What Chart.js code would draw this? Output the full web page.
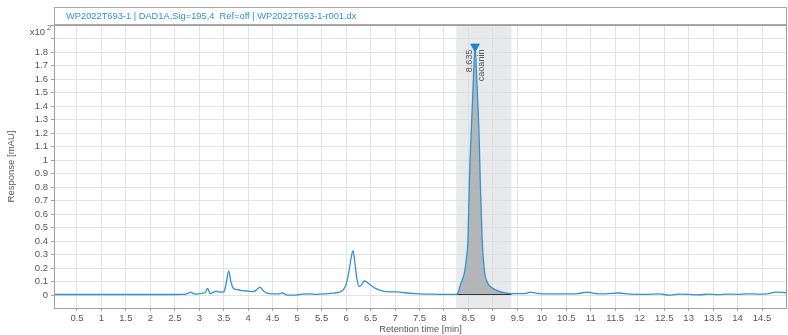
<!DOCTYPE html>
<html>
<head>
<meta charset="utf-8">
<script src="https://cdn.jsdelivr.net/npm/chart.js@4/dist/chart.umd.min.js"></script>
<style>
  html, body { margin: 0; padding: 0; background: #fff; }
  #wrap { width: 788px; height: 335px; }
</style>
</head>
<body>
<div id="wrap"><canvas id="chart" width="788" height="335"></canvas></div>
<script>
// retention time [min] and response [x10^2 mAU]
const times = [0.03, 0.5, 1, 1.5, 2, 2.5, 2.7, 2.76, 2.82, 2.88, 2.95, 3.05, 3.12, 3.17, 3.22, 3.28,
  3.35, 3.42, 3.5, 3.55, 3.6, 3.65, 3.7, 3.8, 3.9, 4.0, 4.1, 4.17, 4.24, 4.3, 4.38, 4.5, 4.62, 4.7,
  4.78, 4.9, 5.0, 5.1, 5.25, 5.4, 5.6, 5.75, 5.85, 5.93, 6.0, 6.06, 6.1, 6.14, 6.18, 6.22, 6.27,
  6.32, 6.37, 6.43, 6.5, 6.6, 6.75, 6.9, 7.05, 7.2, 7.4, 7.6, 7.8, 8.0,
  8.25, 8.29, 8.33, 8.38, 8.42, 8.46, 8.49, 8.52, 8.55, 8.59, 8.635, 8.67, 8.7, 8.72, 8.74, 8.78,
  8.83, 8.88, 8.93, 9.0, 9.1, 9.2, 9.3, 9.38,
  9.5, 9.65, 9.78, 9.9, 10.1, 10.4, 10.7, 10.93, 11.1, 11.3, 11.58, 11.8, 12.1, 12.4, 12.6, 12.8,
  13.0, 13.2, 13.4, 13.6, 13.8, 14.0, 14.2, 14.4, 14.6, 14.78, 14.95, 15.01];
const response = [0.005, 0.005, 0.005, 0.005, 0.005, 0.005, 0.006, 0.012, 0.022, 0.012, 0.008, 0.014, 0.02, 0.05, 0.012, 0.02,
  0.03, 0.022, 0.025, 0.09, 0.18, 0.09, 0.05, 0.04, 0.032, 0.03, 0.026, 0.04, 0.06, 0.035, 0.015, 0.01, 0.01, 0.016,
  0.002, 0.0, 0.002, 0.008, 0.01, 0.006, 0.01, 0.015, 0.02, 0.035, 0.08, 0.18, 0.27, 0.33, 0.24, 0.12, 0.064,
  0.08, 0.105, 0.095, 0.075, 0.05, 0.03, 0.024, 0.025, 0.018, 0.012, 0.008, 0.007, 0.006,
  0.006, 0.02, 0.07, 0.12, 0.17, 0.28, 0.41, 0.86, 1.15, 1.5, 1.84, 1.6, 1.35, 1.15, 0.86, 0.41,
  0.17, 0.1, 0.07, 0.05, 0.032, 0.02, 0.013, 0.01,
  0.012, 0.012, 0.022, 0.014, 0.01, 0.01, 0.01, 0.022, 0.012, 0.01, 0.016, 0.008, 0.006, 0.01, 0.0, 0.008,
  0.006, 0.002, 0.008, 0.004, 0.008, 0.006, 0.01, 0.008, 0.01, 0.022, 0.02, 0.012];

// integrated peak
const peakStart = 8.25;
const peakEnd = 9.38;
const peakBase = [0.005, 0.005];
const peakTime = [8.635];
const peakHeight = [1.84];
const peakNames = ['caoanin'];

const xTicks = [0.5, 1, 1.5, 2, 2.5, 3, 3.5, 4, 4.5, 5, 5.5, 6, 6.5, 7, 7.5, 8, 8.5, 9, 9.5, 10,
  10.5, 11, 11.5, 12, 12.5, 13, 13.5, 14, 14.5];
const yTicks = [0, 0.1, 0.2, 0.3, 0.4, 0.5, 0.6, 0.7, 0.8, 0.9, 1, 1.1, 1.2, 1.3, 1.4, 1.5, 1.6,
  1.7, 1.8, 1.9, 2.0];
const yLabelMax = 1.8;

const titleText = 'WP2022T693-1 | DAD1A,Sig=195,4  Ref=off | WP2022T693-1-r001.dx';

const blue = '#2f93d1';
const font = '"Liberation Sans", Arial, sans-serif';

const trace = times.map((t, i) => ({ x: t, y: response[i] }));
const peakArea = trace.filter(p => p.x >= peakStart && p.x <= peakEnd);

const decorations = {
  id: 'decorations',
  beforeDatasetsDraw(chart) {
    const { ctx, chartArea: a, scales: { x } } = chart;
    ctx.save();
    ctx.fillStyle = 'rgba(215,218,222,0.6)';
    const x0 = x.getPixelForValue(peakStart), x1 = x.getPixelForValue(peakEnd);
    ctx.fillRect(x0, a.top, x1 - x0, a.bottom - a.top);
    ctx.restore();
  },
  afterDraw(chart) {
    const { ctx, chartArea: a, scales: { x, y } } = chart;
    ctx.save();
    // title box
    ctx.strokeStyle = '#a9a9a9';
    ctx.lineWidth = 1;
    ctx.strokeRect(a.left + 0.5, 7.5, a.right - a.left - 1, a.top - 8);
    ctx.fillStyle = blue;
    ctx.font = '9.3px ' + font;
    ctx.textBaseline = 'middle';
    ctx.fillText(titleText, a.left + 12, 16);
    // plot frame
    ctx.strokeStyle = '#a0a0a0';
    ctx.strokeRect(a.left + 0.5, a.top + 0.5, a.right - a.left - 1, a.bottom - a.top);
    // exponent label
    ctx.fillStyle = '#555';
    ctx.font = '9.5px ' + font;
    ctx.textAlign = 'right';
    ctx.fillText('x10', a.left - 9, 32);
    ctx.font = '7.5px ' + font;
    ctx.textAlign = 'left';
    ctx.fillText('2', a.left - 7, 28);
    // peak labels
    peakTime.forEach((t, i) => {
      const px = x.getPixelForValue(t), py = y.getPixelForValue(peakHeight[i]);
      ctx.font = '9px ' + font;
      ctx.fillStyle = '#555';
      ctx.textAlign = 'right';
      ctx.textBaseline = 'middle';
      ctx.save();
      ctx.translate(px - 6, py + 3);
      ctx.rotate(-Math.PI / 2);
      ctx.fillText(t.toFixed(3), 0, 0);
      ctx.restore();
      ctx.save();
      ctx.translate(px + 6, py + 3);
      ctx.rotate(-Math.PI / 2);
      ctx.fillText(peakNames[i], 0, 0);
      ctx.restore();
    });
    ctx.restore();
  }
};

new Chart(document.getElementById('chart'), {
  type: 'line',
  data: {
    datasets: [
      {
        label: 'area',
        data: peakArea,
        borderWidth: 0,
        pointRadius: 0,
        backgroundColor: 'rgba(160,164,168,0.75)',
        fill: { value: peakBase[0] },
        cubicInterpolationMode: 'monotone',
        order: 3
      },
      {
        label: 'baseline',
        data: [{ x: peakStart, y: peakBase[0] }, { x: peakEnd, y: peakBase[1] }],
        borderColor: '#333',
        borderWidth: 1.2,
        pointRadius: 0,
        fill: false,
        order: 2
      },
      {
        label: 'signal',
        data: trace,
        borderColor: blue,
        borderWidth: 1.3,
        pointRadius: 0,
        fill: false,
        cubicInterpolationMode: 'monotone',
        order: 1
      },
      {
        label: 'apex',
        type: 'scatter',
        data: peakTime.map((t, i) => ({ x: t, y: peakHeight[i] })),
        pointStyle: 'triangle',
        rotation: 180,
        radius: 5,
        backgroundColor: '#1c86d0',
        borderColor: '#1c86d0',
        order: 0
      }
    ]
  },
  options: {
    responsive: false,
    animation: false,
    layout: { autoPadding: false, padding: { top: 25, right: 1, left: 0, bottom: 0 } },
    plugins: { legend: { display: false }, tooltip: { enabled: false } },
    scales: {
      x: {
        type: 'linear',
        min: 0.03,
        max: 15.01,
        afterBuildTicks: s => { s.ticks = xTicks.map(v => ({ value: v })); },
        afterFit: s => { s.height = 27; s.paddingLeft = 0; s.paddingRight = 0; },
        border: { display: false },
        grid: { color: '#e3e3e3', lineWidth: 1, drawTicks: true, tickLength: 3, tickColor: '#a0a0a0' },
        ticks: {
          color: '#555', font: { family: font, size: 9.5 }, padding: 2, maxRotation: 0,
          autoSkip: false, callback: v => String(v)
        },
        title: {
          display: true, text: 'Retention time [min]', color: '#555',
          font: { family: font, size: 9.3 }, padding: { top: 0, bottom: 0 }
        }
      },
      y: {
        type: 'linear',
        min: -0.095,
        max: 2.0,
        afterBuildTicks: s => { s.ticks = yTicks.map(v => ({ value: v })); },
        afterFit: s => { s.width = 54; s.paddingTop = 0; s.paddingBottom = 0; },
        border: { display: false },
        grid: { color: '#e3e3e3', lineWidth: 1, drawTicks: true, tickLength: 3, tickColor: '#a0a0a0' },
        ticks: {
          color: '#555', font: { family: font, size: 9.5 }, padding: 3, autoSkip: false,
          callback: v => (v <= yLabelMax + 1e-9 ? String(Math.round(v * 10) / 10) : '')
        },
        title: {
          display: true, text: 'Response [mAU]', color: '#555',
          font: { family: font, size: 9.5 }, padding: { top: 6, bottom: 0 }
        }
      }
    }
  },
  plugins: [decorations]
});
</script>
</body>
</html>
